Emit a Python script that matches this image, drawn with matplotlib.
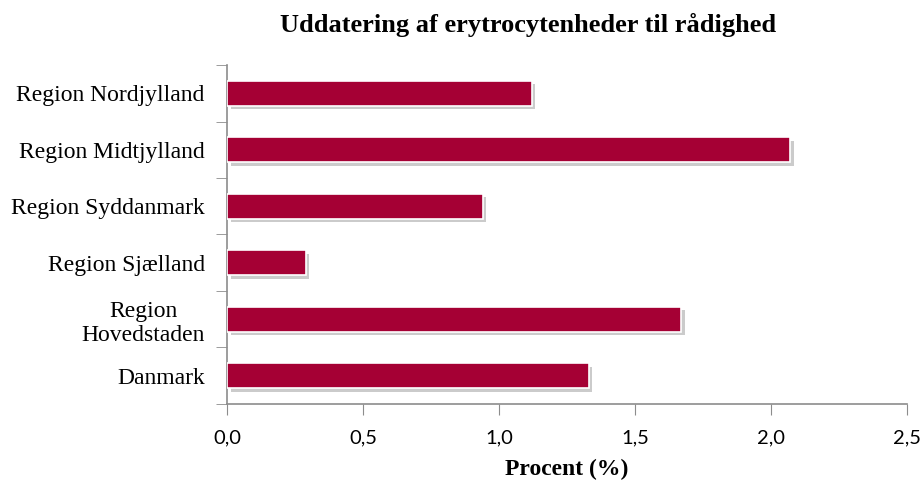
import matplotlib.pyplot as plt
import matplotlib.patheffects as pe

# data
regions = ["Danmark", "Region\nHovedstaden", "Region Sjælland",
           "Region Syddanmark", "Region Midtjylland", "Region Nordjylland"]
procent = [1.33, 1.67, 0.29, 0.94, 2.07, 1.12]
xticks = [0.0, 0.5, 1.0, 1.5, 2.0, 2.5]

bar_color = "#A50034"
axis_color = "#8C8C8C"

fig = plt.figure(figsize=(9.23, 4.82), dpi=100)
ax = fig.add_axes([0.246, 0.162, 0.737, 0.703])

bars = ax.barh(range(len(regions)), procent, height=0.44, color=bar_color,
               edgecolor="white", linewidth=1.2, zorder=3)
for b in bars:
    b.set_path_effects([pe.SimplePatchShadow(offset=(2.5, -2.5), shadow_rgbFace="#555555", alpha=0.3),
                        pe.Normal()])

ax.set_xlim(0, 2.5)
ax.set_ylim(-0.5, len(regions) - 0.5)
ax.set_xticks(xticks)
ax.set_xticklabels([f"{t:.1f}".replace(".", ",") for t in xticks],
                   fontfamily="Lato", fontsize=14.5)
ax.set_yticks(range(len(regions)))
ax.set_yticklabels(regions, fontfamily="Liberation Serif", fontsize=17,
                   ha="right", multialignment="center", linespacing=1.2)
ax.tick_params(axis="y", length=0, pad=16)
ax.tick_params(axis="x", length=8, color=axis_color, pad=10)

# category separator ticks on the y axis
ax.set_yticks([i - 0.5 for i in range(len(regions) + 1)], minor=True)
ax.tick_params(axis="y", which="minor", length=8, color=axis_color)

for s in ["top", "right"]:
    ax.spines[s].set_visible(False)
for s in ["left", "bottom"]:
    ax.spines[s].set_color(axis_color)
    ax.spines[s].set_linewidth(1.2)

ax.set_xlabel("Procent (%)", fontfamily="Liberation Serif", fontsize=17,
              fontweight="bold", labelpad=9)
fig.text(0.572, 0.948, "Uddatering af erytrocytenheder til rådighed",
         fontfamily="Liberation Serif", fontsize=19, fontweight="bold",
         ha="center", va="center")

fig.savefig("out.png", dpi=100)
